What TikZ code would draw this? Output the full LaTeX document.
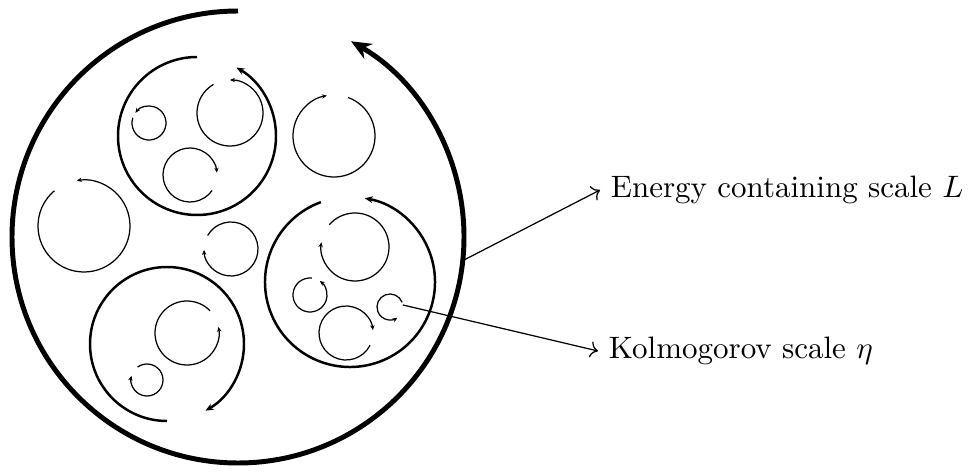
\documentclass[tikz,border=0pt]{standalone}
\usepackage{amsmath}
\usepackage{amssymb}
\usetikzlibrary{arrows.meta}

\begin{document}
\begin{tikzpicture}[x=0.3226pt, y=0.3226pt]
\tikzset{
    largeeddy/.style={ultra thick, -{Stealth[length=6.5pt, width=5.5pt]}},
    mideddy/.style={thick, -{Stealth[length=2.6pt, width=2.2pt]}},
    smalleddy/.style={thin, -{Stealth[length=1.6pt, width=1.4pt]}}
}
  \useasboundingbox (0,0) rectangle (968,473);

  % eddy centres
  \coordinate (L) at (238,236);
  \coordinate (M1) at (197,337);
  \coordinate (M2) at (350,191);
  \coordinate (M3) at (167,129);
  \coordinate (s1) at (149,350);
  \coordinate (s2) at (230,360);
  \coordinate (s3) at (190,298);
  \coordinate (s4) at (84,247);
  \coordinate (s5) at (334,337);
  \coordinate (s6) at (231,224);
  \coordinate (s7) at (355,226);
  \coordinate (s8) at (310,178);
  \coordinate (s9) at (346,140);
  \coordinate (eta) at (390,166);
  \coordinate (s10) at (187,140);
  \coordinate (s11) at (147,93);

  % largest eddy
  \draw[largeeddy] ([shift={(90:226)}]L) arc[start angle=90, end angle=420, radius=226];
  % medium eddies
  \draw[mideddy] ([shift={(90:79)}]M1) arc[start angle=90, end angle=420, radius=79];
  \draw[mideddy] ([shift={(110:85)}]M2) arc[start angle=110, end angle=440, radius=85];
  \draw[mideddy] ([shift={(-90:77)}]M3) arc[start angle=-90, end angle=-420, radius=77];
  % small eddies
  \draw[smalleddy] ([shift={(162:17)}]s1) arc[start angle=162, end angle=503, radius=17];
  \draw[smalleddy] ([shift={(120:33)}]s2) arc[start angle=120, end angle=450, radius=33];
  \draw[smalleddy] ([shift={(-35:27)}]s3) arc[start angle=-35, end angle=-355, radius=27];
  \draw[smalleddy] ([shift={(130:46)}]s4) arc[start angle=130, end angle=459, radius=46];
  \draw[smalleddy] ([shift={(70:41)}]s5) arc[start angle=70, end angle=-260, radius=41];
  \draw[smalleddy] ([shift={(150:27)}]s6) arc[start angle=150, end angle=-178, radius=27];
  \draw[smalleddy] ([shift={(139:34)}]s7) arc[start angle=139, end angle=-188, radius=34];
  \draw[smalleddy] ([shift={(84:17)}]s8) arc[start angle=84, end angle=415, radius=17];
  \draw[smalleddy] ([shift={(-27:27)}]s9) arc[start angle=-27, end angle=-354, radius=27];
  \draw[smalleddy] ([shift={(21:13)}]eta) arc[start angle=21, end angle=304, radius=13];
  \draw[smalleddy] ([shift={(44:32)}]s10) arc[start angle=44, end angle=371, radius=32];
  \draw[smalleddy] ([shift={(126:16)}]s11) arc[start angle=126, end angle=-195, radius=16];

  % labels
  \node[anchor=west] (energy) at (600,283) {Energy containing scale $L$};
  \node[anchor=west] (kolmo) at (598,122) {Kolmogorov scale $\eta$};
  \coordinate (Ledge) at ([shift={(-6:226)}]L);
  \coordinate (etaedge) at ([shift={(9:13)}]eta);
  \draw[->] (Ledge) -- (energy.west);
  \draw[->] (etaedge) -- (kolmo.west);
\end{tikzpicture}
\end{document}
